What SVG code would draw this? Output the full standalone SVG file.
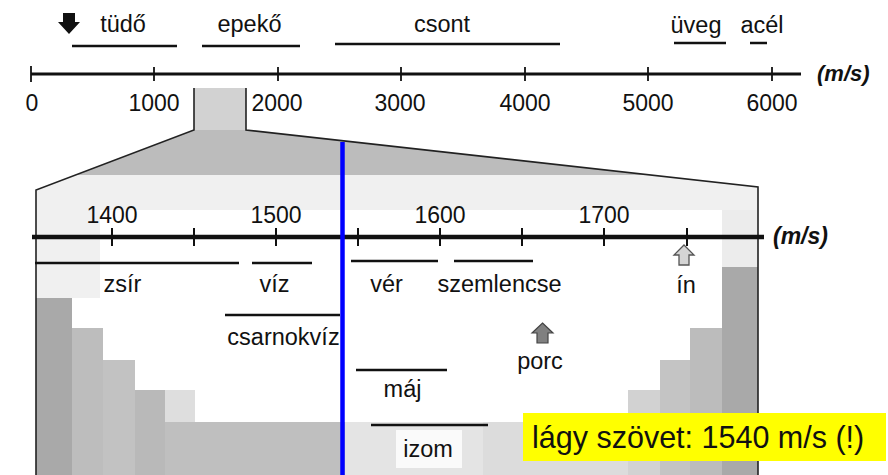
<svg xmlns="http://www.w3.org/2000/svg" width="888" height="475" viewBox="0 0 888 475">
<defs>
<style>
text{font-family:"Liberation Sans",Arial,sans-serif;fill:#111;}
.lbl{font-size:23.5px;text-anchor:middle;}
.num{font-size:23px;text-anchor:middle;}
.unit{font-size:22px;font-weight:bold;font-style:italic;}
.rng{stroke:#111;stroke-width:2.5;fill:none;}
.tick{stroke:#111;stroke-width:1.8;}
.edge{stroke:#222;stroke-width:1.6;fill:none;}
</style>
</defs>
<rect width="888" height="475" fill="#ffffff"/>

<g id="zoom-region">
<rect x="194" y="88" width="52" height="42" fill="#d2d2d2"/>
<polygon points="36,190 194,130 246,130 758,187 758,210 36,210" fill="#f0f0f0"/>
<polygon points="194,130 246,130 650,175 75,175" fill="#bcbcbc"/>
<rect x="36" y="210" width="64" height="88" fill="#f0f0f0"/>
<rect x="722" y="210" width="36" height="57" fill="#ececec"/>
</g>

<g id="histogram-left">
<rect x="36" y="298" width="36" height="177" fill="#a9a9a9"/>
<rect x="72" y="328" width="31" height="147" fill="#bdbdbd"/>
<rect x="103" y="360" width="32" height="115" fill="#c2c2c2"/>
<rect x="135" y="390" width="30" height="85" fill="#b9b9b9"/>
<rect x="165" y="390" width="30" height="32" fill="#dedede"/>
<rect x="165" y="422" width="180" height="53" fill="#bfbfbf"/>
<rect x="345" y="422" width="178" height="53" fill="#e4e4e4"/>
<rect x="396" y="430" width="66" height="38" fill="#fafafa"/>
</g>
<g id="histogram-right">
<rect x="722" y="267" width="36" height="208" fill="#a9a9a9"/>
<rect x="690" y="328" width="32" height="147" fill="#bcbcbc"/>
<rect x="660" y="360" width="30" height="115" fill="#c4c4c4"/>
<rect x="628" y="390" width="32" height="85" fill="#d2d2d2"/>
<rect x="483" y="422" width="145" height="53" fill="#dcdcdc"/>
</g>

<g id="connectors">
<polyline class="edge" points="36,475 36,190 194,130 194,88"/>
<polyline class="edge" points="246,88 246,130 758,187 758,475"/>
<line x1="31" y1="74" x2="801" y2="74" stroke="#111" stroke-width="3.2"/>
<g class="tick">
<line x1="31" y1="66" x2="31" y2="82"/>
<line x1="154" y1="67" x2="154" y2="81"/>
<line x1="278" y1="67" x2="278" y2="81"/>
<line x1="401" y1="67" x2="401" y2="81"/>
<line x1="525" y1="67" x2="525" y2="81"/>
<line x1="648" y1="67" x2="648" y2="81"/>
<line x1="772" y1="67" x2="772" y2="81"/>
</g>
<line x1="32" y1="237" x2="764" y2="237" stroke="#111" stroke-width="4.5"/>
<g class="tick" style="stroke-width:2">
<line x1="112" y1="228" x2="112" y2="246"/>
<line x1="194" y1="228" x2="194" y2="246"/>
<line x1="276" y1="228" x2="276" y2="246"/>
<line x1="358" y1="228" x2="358" y2="246"/>
<line x1="440" y1="228" x2="440" y2="246"/>
<line x1="522" y1="228" x2="522" y2="246"/>
<line x1="604" y1="228" x2="604" y2="246"/>
<line x1="687" y1="228" x2="687" y2="246"/>
</g>
<line class="rng" x1="72" y1="46" x2="177" y2="46"/>
<line class="rng" x1="202" y1="46" x2="300" y2="46"/>
<line class="rng" x1="335" y1="44" x2="560" y2="44"/>
<line class="rng" x1="674" y1="43" x2="726" y2="43"/>
<line class="rng" x1="750" y1="43" x2="767" y2="43"/>
<line class="rng" x1="35" y1="263" x2="239" y2="263"/>
<line class="rng" x1="252" y1="263" x2="312" y2="263"/>
<line class="rng" x1="351" y1="261" x2="438" y2="261"/>
<line class="rng" x1="454" y1="261" x2="533" y2="261"/>
<line class="rng" x1="225" y1="315" x2="340" y2="315"/>
<line class="rng" x1="356" y1="370" x2="447" y2="370"/>
<line class="rng" x1="371" y1="425" x2="488" y2="425"/>
</g>

<g id="marker-1540">
<line x1="342.5" y1="142" x2="342.5" y2="475" stroke="#0000ff" stroke-width="4.5"/>
</g>

<g id="top-labels">
<polygon points="63,13 75,13 75,22 80,22 69,34 58,22 63,22" fill="#111"/>
<text class="lbl" x="123" y="32">tüdő</text>
<text class="lbl" x="249.5" y="32">epekő</text>
<text class="lbl" x="442" y="32">csont</text>
<text class="lbl" x="696" y="33">üveg</text>
<text class="lbl" x="762" y="33">acél</text>
<text class="num" x="32" y="111">0</text>
<text class="num" x="154" y="111">1000</text>
<text class="num" x="277" y="111">2000</text>
<text class="num" x="400" y="111">3000</text>
<text class="num" x="525" y="111">4000</text>
<text class="num" x="648" y="111">5000</text>
<text class="num" x="772" y="111">6000</text>
<text class="unit" x="817" y="81">(m/s)</text>
</g>

<g id="bottom-labels">
<text class="num" x="112" y="223">1400</text>
<text class="num" x="276" y="223">1500</text>
<text class="num" x="440" y="223">1600</text>
<text class="num" x="604" y="223">1700</text>
<text class="unit" x="773" y="244" style="font-size:23px">(m/s)</text>
<text class="lbl" x="122.5" y="292">zsír</text>
<text class="lbl" x="274.5" y="292">víz</text>
<text class="lbl" x="386.5" y="292">vér</text>
<text class="lbl" x="499.5" y="292">szemlencse</text>
<polygon points="684,245 694,255 689,255 689,265 679,265 679,255 674,255" fill="#d4d4d4" stroke="#555" stroke-width="1.3"/>
<text class="lbl" x="686" y="293">ín</text>
<text class="lbl" x="283.5" y="345">csarnokvíz</text>
<polygon points="542.5,323 553,333 548,333 548,343 537,343 537,333 532,333" fill="#808080" stroke="#444" stroke-width="1.2"/>
<text class="lbl" x="540" y="369">porc</text>
<text class="lbl" x="402.5" y="397">máj</text>
<text class="lbl" x="428" y="457">izom</text>
</g>

<g id="note">
<rect x="523" y="413" width="363" height="48" fill="#ffff00"/>
<text x="532" y="448" style="font-size:30.5px">lágy szövet: 1540 m/s (!)</text>
</g>
</svg>
